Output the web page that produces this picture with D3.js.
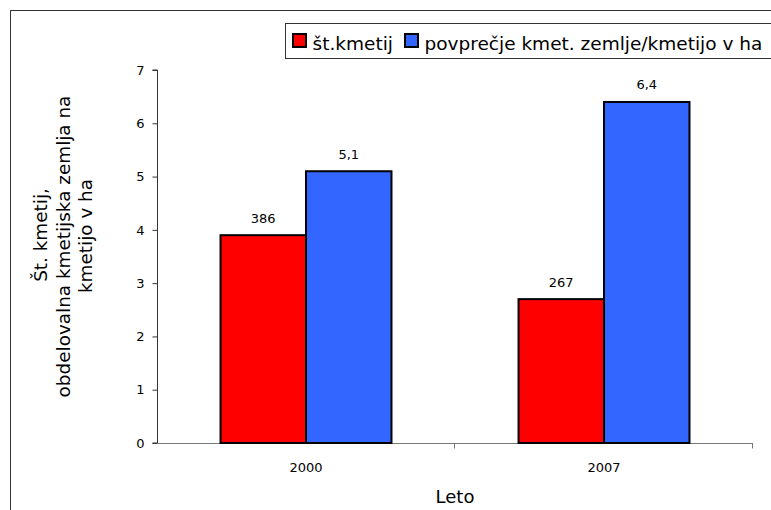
<!DOCTYPE html>
<html>
<head>
<meta charset="utf-8">
<script src="https://cdn.jsdelivr.net/npm/d3@7"></script>
<style>
  html, body { margin: 0; padding: 0; background: #fff; }
  svg { display: block; font-family: "DejaVu Sans", Verdana, sans-serif; }
</style>
</head>
<body>
<svg id="chart" width="771" height="510"></svg>
<script>
// ---- data ----
const years = ["2000", "2007"];
const seriesNames = ["št.kmetij", "povprečje kmet. zemlje/kmetijo v ha"];
const farmsBar = [3.9, 2.7];          // bar heights (scaled, hundreds of farms)
const farmsLabels = ["386", "267"];   // printed labels
const avgLand = [5.1, 6.4];
const avgLabels = ["5,1", "6,4"];
const yTicks = [0, 1, 2, 3, 4, 5, 6, 7];
const seriesColors = ["#FF0000", "#3366FF"];
const yTitleLines = ["Št. kmetij,", "obdelovalna kmetijska zemlja na", "kmetijo v ha"];
const xTitle = "Leto";

const svg = d3.select("#chart");

// outer frame (extends beyond the visible area)
svg.append("rect").attr("x", 10.5).attr("y", 10.5).attr("width", 800).attr("height", 600)
  .attr("fill", "none").attr("stroke", "#333").attr("stroke-width", 1);

const plot = { left: 157, right: 753, top: 70, bottom: 443 };

const y = d3.scaleLinear().domain([0, 7]).range([plot.bottom, plot.top]);
const x0 = d3.scaleBand().domain(years).range([plot.left, plot.right]).padding(0);
const x1 = d3.scaleBand().domain([0, 1]).range([0, x0.bandwidth()]).paddingInner(0).paddingOuter(0.743);

// y axis
const yAxis = d3.axisLeft(y).tickValues(yTicks).tickSize(5).tickPadding(8).tickFormat(d3.format("d"));
const gy = svg.append("g").attr("transform", `translate(${plot.left + 0.5},0)`).call(yAxis);
gy.select(".domain").attr("stroke", "#333").attr("d", `M-5,${y(0)}H0V${y(7)}H-5`);
gy.selectAll(".tick line").attr("stroke", "#333");
gy.selectAll(".tick text").attr("font-size", 13).attr("fill", "#000")
  .attr("font-family", "DejaVu Sans");

// x axis
const xEdges = d3.scaleLinear().domain([0, years.length]).range([plot.left, plot.right]);
const gx = svg.append("g").attr("transform", `translate(0,${plot.bottom + 0.5})`);
gx.append("line").attr("x1", plot.left).attr("x2", plot.right).attr("stroke", "#777");
gx.selectAll("line.tk").data(d3.range(1, years.length + 1)).join("line").attr("class", "tk")
  .attr("x1", d => Math.round(xEdges(d)) - 0.5).attr("x2", d => Math.round(xEdges(d)) - 0.5)
  .attr("y1", 0).attr("y2", 5).attr("stroke", "#777");
gx.selectAll("text").data(years).join("text")
  .attr("x", d => x0(d) + x0.bandwidth() / 2)
  .attr("y", 28)
  .attr("text-anchor", "middle").attr("font-size", 13).text(d => d);

// bars
const seriesVals = [farmsBar, avgLand];
const seriesLabels = [farmsLabels, avgLabels];
const barData = [];
years.forEach((yr, i) => {
  seriesVals.forEach((vals, s) => {
    barData.push({ yr, s, v: vals[i], label: seriesLabels[s][i] });
  });
});
svg.append("g").selectAll("rect").data(barData).join("rect")
  .attr("x", d => x0(d.yr) + x1(d.s))
  .attr("y", d => y(d.v))
  .attr("width", x1.bandwidth())
  .attr("height", d => y(0) - y(d.v))
  .attr("fill", d => seriesColors[d.s])
  .attr("stroke", "#000").attr("stroke-width", 2);

svg.append("g").selectAll("text").data(barData).join("text")
  .attr("x", d => x0(d.yr) + x1(d.s) + x1.bandwidth() / 2)
  .attr("y", d => y(d.v) - 12.5)
  .attr("text-anchor", "middle").attr("font-size", 13).text(d => d.label);

// axis titles
svg.append("text").attr("x", 455).attr("y", 503)
  .attr("text-anchor", "middle").attr("font-size", 18).text(xTitle);

const titleBaselines = [47, 69.5, 92];
const titleCenters = [235, 246.5, 236];
yTitleLines.forEach((t, i) => {
  svg.append("text")
    .attr("transform", `translate(${titleBaselines[i]},${titleCenters[i]}) rotate(-90)`)
    .attr("text-anchor", "middle").attr("font-size", 18.4).text(t);
});

// legend
const lg = svg.append("g");
lg.append("rect").attr("x", 285.5).attr("y", 23.5).attr("width", 600).attr("height", 35)
  .attr("fill", "#fff").attr("stroke", "#333").attr("stroke-width", 1);
const legendX = [293, 405];
seriesNames.forEach((name, i) => {
  lg.append("rect").attr("x", legendX[i]).attr("y", 34).attr("width", 13).attr("height", 13)
    .attr("fill", seriesColors[i]).attr("stroke", "#000").attr("stroke-width", 2);
  lg.append("text").attr("x", legendX[i] + 19.5).attr("y", 50).attr("font-size", 18.5).text(name);
});
</script>
</body>
</html>
